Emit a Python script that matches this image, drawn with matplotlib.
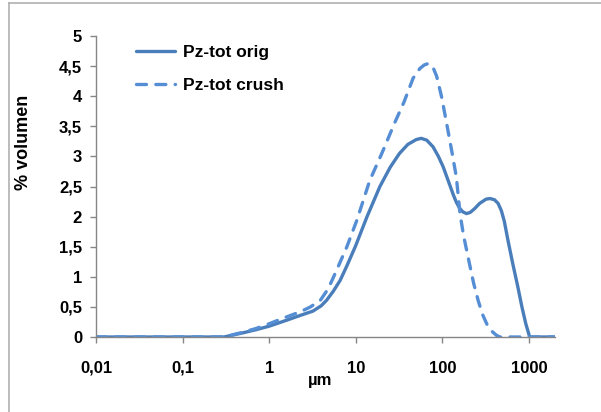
import matplotlib
matplotlib.use("Agg")
import matplotlib.pyplot as plt
from matplotlib.lines import Line2D

plt.rcParams['font.family'] = ['Liberation Sans', 'DejaVu Sans']

# Data (particle size in µm, % volume)
orig_x = [0.01, 0.1, 0.3, 0.5, 0.7, 1.0, 1.6, 2.3, 3.2, 4.0, 4.6, 5.5, 6.6, 8.0, 10, 13.5,
          19, 25, 32, 40, 50, 57, 66, 78, 90, 102, 118, 134, 145, 158, 172, 190, 210, 235,
          270, 320, 355, 400, 440, 480, 520, 570, 650, 740, 830, 920, 1020, 2000]
orig_y = [0, 0, 0, 0.07, 0.12, 0.18, 0.28, 0.36, 0.43, 0.52, 0.61, 0.76, 0.94, 1.2, 1.52, 2.0,
          2.5, 2.82, 3.05, 3.2, 3.28, 3.3, 3.27, 3.16, 3.0, 2.83, 2.58, 2.36, 2.24, 2.14, 2.08,
          2.05, 2.07, 2.13, 2.22, 2.29, 2.3, 2.28, 2.22, 2.1, 1.92, 1.62, 1.22, 0.85, 0.5, 0.22,
          0, 0]

crush_x = [0.01, 0.1, 0.3, 0.5, 0.7, 1.0, 1.5, 2.3, 3.0, 3.9, 4.8, 5.8, 7.9, 10.3, 14.5,
           20, 28, 36, 46, 55, 62, 68, 73, 78, 86, 98, 112, 128, 145, 160, 175, 200, 230, 260,
           290, 330, 370, 420, 460, 2000]
crush_y = [0, 0, 0, 0.08, 0.14, 0.22, 0.32, 0.42, 0.5, 0.61, 0.8, 1.06, 1.5, 1.94, 2.6,
           3.05, 3.55, 3.9, 4.3, 4.46, 4.52, 4.54, 4.53, 4.48, 4.33, 3.99, 3.55, 3.1, 2.66,
           2.05, 1.7, 1.3, 0.89, 0.6, 0.38, 0.2, 0.1, 0.03, 0, 0]

x_ticks = [0.01, 0.1, 1, 10, 100, 1000]
x_labels = ['0,01', '0,1', '1', '10', '100', '1000']
y_ticks = [0, 0.5, 1, 1.5, 2, 2.5, 3, 3.5, 4, 4.5, 5]
y_labels = ['0', '0,5', '1', '1,5', '2', '2,5', '3', '3,5', '4', '4,5', '5']

W, H = 601, 412
fig = plt.figure(figsize=(W / 100, H / 100), dpi=100)
ax = fig.add_axes([96 / W, 1 - 337 / H, (555 - 96) / W, (337 - 36) / H])

color_o = '#4a7ebb'
color_c = '#558ed5'
ax.plot(orig_x, orig_y, color=color_o, lw=2.4, solid_capstyle='round',
        solid_joinstyle='round', label='Pz-tot orig')
ax.plot(crush_x, crush_y, color=color_c, lw=2.4, dashes=(3.0, 2.8), dash_capstyle='round',
        dash_joinstyle='round', label='Pz-tot crush')

ax.set_xscale('log')
ax.set_xlim(0.01, 2000)
ax.set_ylim(0, 5)
ax.set_xticks(x_ticks)
ax.set_xticklabels(x_labels)
ax.set_yticks(y_ticks)
ax.set_yticklabels(y_labels)
ax.xaxis.set_minor_locator(matplotlib.ticker.NullLocator())

for s in ['top', 'right']:
    ax.spines[s].set_visible(False)
for s in ['left', 'bottom']:
    ax.spines[s].set_color('#868686')
    ax.spines[s].set_linewidth(1.0)
ax.tick_params(axis='both', colors='#868686', length=4, width=1, direction='out',
               labelcolor='black', labelsize=12)
ax.tick_params(axis='x', pad=13)
ax.tick_params(axis='y', pad=6)
for lab in ax.get_xticklabels() + ax.get_yticklabels():
    lab.set_fontweight('bold')

fig.text(320 / W, 1 - 381 / H, 'µm', ha='center', va='center', fontsize=12, fontweight='bold')
fig.text(24 / W, 1 - 142 / H, '% volumen', ha='center', va='center', rotation=90,
         fontsize=13, fontweight='bold')

leg = ax.legend(loc='upper left', bbox_to_anchor=(136 / W, 1 - 45 / H),
                bbox_transform=fig.transFigure, frameon=False, borderpad=0, borderaxespad=0,
                handlelength=2.25, handletextpad=0.46, labelspacing=1.0,
                prop={'weight': 'bold', 'size': 12.5})

# outer chart border (left and top)
fig.add_artist(Line2D([8.5 / W, 8.5 / W], [0, 1 - 3 / H], transform=fig.transFigure,
                      color='#b0b0b0', lw=1.2))
fig.add_artist(Line2D([8.5 / W, 1], [1 - 3 / H, 1 - 3 / H], transform=fig.transFigure,
                      color='#b0b0b0', lw=1.2))

fig.savefig('out.png', dpi=100)
